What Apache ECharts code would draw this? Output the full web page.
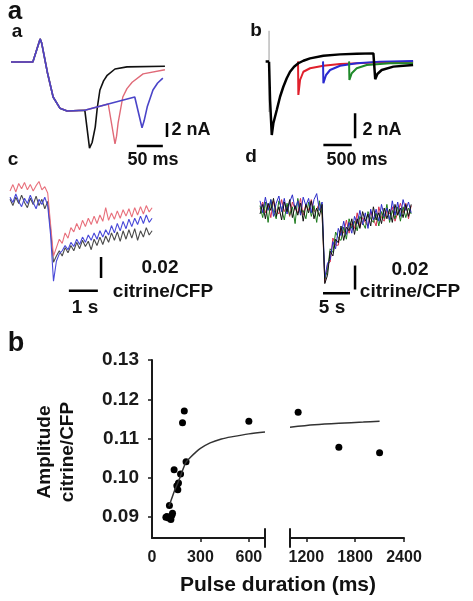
<!DOCTYPE html>
<html><head><meta charset="utf-8">
<script src="https://cdn.jsdelivr.net/npm/echarts@6/dist/echarts.min.js"></script>
<style>html,body{margin:0;padding:0;background:#fff}#c{width:473px;height:601px}</style>
</head><body><div id="c"></div>
<script>
// ---------- Panel a / a : currents (time ms, current nA)
const aaBlack = [[0,0],[42,0],[56,3.3],[59,2.7],[70,-1.5],[81,-5.0],[94,-6.6],[108,-7.0],[142,-6.9],[151,-12.3],[156,-11.5],[162,-9.3],[166,-6.5],[171,-4.0],[178,-2.7],[185,-1.9],[200,-1.0],[223,-0.7],[296,-0.6]];
const aaRed   = [[0,0],[42,0],[56,3.3],[59,2.7],[70,-1.5],[81,-5.0],[94,-6.6],[108,-7.0],[142,-6.9],[187,-6.0],[200,-11.7],[203,-10.6],[206,-8.7],[215,-5.0],[223,-3.8],[233,-2.9],[254,-1.7],[296,-1.1]];
const aaBlue  = [[0,0],[42,0],[56,3.3],[59,2.7],[70,-1.5],[81,-5.0],[94,-6.6],[108,-7.0],[142,-6.9],[187,-6.0],[238,-5.0],[252,-9.4],[256,-8.4],[262,-6.4],[273,-4.0],[282,-3.0],[292,-2.3]];
const aaBarV = [[300,-8.7],[300,-10.7]];   // 2 nA
const aaBarH = [[242,-12],[292,-12]];      // 50 ms

// ---------- Panel a / b : currents (time ms, current nA)
const abBlack = [[0,0.02],[5,0],[18,-3.04],[48,-5.84],[76,-4.9],[136,-3.84],[194,-2.78],[252,-1.98],[312,-1.3],[370,-0.78],[441,-0.38],[517,-0.1],[605,0.1],[723,0.29],[958,0.5],[1252,0.61],[1546,0.66],[1840,0.69],[1870,0.69],[1872,-1.38],[1910,-0.96],[1987,-0.64],[2192,-0.37],[2540,-0.24]];
const abRed   = [[511,0.05],[517,-2.64],[547,-1.44],[605,-0.78],[723,-0.5],[958,-0.3],[1252,-0.16],[1834,-0.05],[2540,0.02]];
const abBlue  = [[952,0.05],[958,-1.7],[1005,-1.04],[1076,-0.64],[1252,-0.3],[1546,-0.1],[1958,0.03],[2540,0.08]];
const abGreen = [[1411,0.05],[1417,-1.44],[1458,-0.9],[1546,-0.5],[1723,-0.24],[2134,-0.1],[2540,-0.1]];
const abAxis  = [[0,2.5],[0,-4.0]];
const abZeroTick = [[-60,0.05],[0,0.05]];
const abBarV = [[1517,-4.1],[1517,-6.1]];    // 2 nA
const abBarH = [[958,-6.64],[1458,-6.64]];   // 500 ms

// ---------- Panel c : citrine/CFP change (time s, ratio x 1e-3)
const cTime = [0,0.1,0.2,0.3,0.4,0.5,0.6,0.7,0.8,0.9,1.0,1.1,1.2,1.3,1.4,1.5,1.6,1.7,1.8,1.9,2.0,2.1,2.2,2.3,2.4,2.5,2.6,2.7,2.8,2.9,3.0,3.1,3.2,3.3,3.4,3.5,3.6,3.7,3.8,3.9,4.0,4.1,4.2,4.3,4.4,4.5,4.6,4.7,4.8,4.9];
const cRed   = [2,8,1,9,4,10,3,8,2,7,11,3,6,0,-30,-60,-52,-44,-48,-38,-43,-33,-37,-29,-35,-26,-32,-24,-30,-22,-29,-21,-27,-14,-26,-19,-25,-17,-24,-16,-22,-15,-23,-14,-21,-13,-20,-12,-18,-14];
const cBlack = [-6,-12,-4,-10,-2,-9,-14,-5,-11,-3,-12,-6,-15,-8,-35,-66,-60,-55,-60,-52,-57,-50,-55,-47,-53,-45,-51,-46,-54,-44,-50,-42,-49,-41,-47,-38,-45,-37,-46,-36,-44,-35,-43,-34,-45,-36,-42,-33,-40,-36];
const cBlue  = [-4,-9,-1,-8,-13,-5,-10,-2,-9,-15,-6,-11,-4,-12,-40,-84,-65,-58,-55,-50,-54,-47,-51,-44,-49,-42,-47,-40,-45,-38,-44,-36,-42,-35,-40,-31,-38,-29,-36,-27,-34,-25,-32,-24,-30,-22,-29,-21,-28,-24];
const cBarV = [[3.14,-61],[3.14,-81]];     // 0.02
const cBarH = [[2.03,-93],[3.03,-93]];     // 1 s

// ---------- Panel d : citrine/CFP change (time s, ratio x 1e-3)
const dTime = [0,0.5,1,1.5,2,2.5,3,3.5,4,4.5,5,5.5,6,6.5,7,7.5,8,8.5,9,9.5,10,10.5,11,11.5,12,12.5,13,13.5,14,14.5,15,15.5,16,16.5,17,17.5,18,18.5,19,19.5,20,20.5,21,21.5,22,22.5,23,23.5,24,24.5,25,25.5,26,26.5,27,27.5,28];
const dRed   = [-1,5,-4,3,-8,6,-2,-5,7,-3,2,-7,5,-1,-4,8,-6,3,-2,7,-3,-1,4,-6,-62,-47,-45,-25,-31,-31,-17,-21,-10,-21,-13,-17,-4,-16,-8,-12,-15,-3,-9,-15,1,-8,-11,-2,-5,1,-11,-4,4,-4,4,-9,2];
const dGreen = [2,-8,5,-12,7,-3,-9,6,-1,-10,4,-6,1,-13,8,-4,-2,-9,5,-7,2,-12,6,-5,-59,-52,-34,-37,-20,-25,-27,-16,-26,-9,-17,-11,-19,-7,-12,-17,-3,-9,-12,-4,-15,-3,-9,3,-12,-2,-9,1,-11,1,-8,0,-5];
const dBlue  = [6,-4,9,-2,7,-7,4,10,-3,8,-5,5,11,-1,6,-6,9,2,8,-4,7,12,-2,5,-58,-46,-43,-28,-34,-17,-23,-11,-22,-12,-21,-7,-13,-2,-14,-4,-17,-1,-10,-1,-11,3,-7,0,-10,6,-6,5,-7,7,-2,5,-4];
const dBlack = [-5,3,-9,4,-2,8,-7,1,-10,5,-3,7,-8,2,-6,4,-11,3,-4,6,-9,0,-7,3,-63,-56,-36,-40,-26,-29,-15,-27,-16,-19,-9,-22,-9,-17,-3,-11,-5,-15,1,-10,-4,-13,0,-9,-1,-12,3,-6,0,-8,3,-7,3];
const dBarV = [[17.6,-48],[17.6,-68]];     // 0.02
const dBarH = [[11.67,-71],[16.67,-71]];   // 5 s

// ---------- Panel b : amplitude vs pulse duration
const pulseMs   = [86,92,102,108,117,123,127,137,154,160,164,177,189,200,211,600,1100,1600,2100];
const amplitude = [0.0900,0.0902,0.0898,0.0930,0.0894,0.0905,0.0910,0.1021,0.0980,0.0970,0.0987,0.1010,0.1140,0.1170,0.1041,0.1144,0.1167,0.1078,0.1064];
const fitLeftMs  = [105,120,140,165,190,211,240,270,300,360,430,500,600,700];
const fitLeftAmp = [0.0928,0.0945,0.0968,0.0992,0.1020,0.1040,0.1053,0.1065,0.1075,0.1089,0.1099,0.1105,0.1112,0.1117];
const fitRightMs  = [1000,1300,1600,1900,2100];
const fitRightAmp = [0.1129,0.1135,0.1139,0.1142,0.1144];
const ampTicks = [0.09,0.10,0.11,0.12,0.13];
const leftTicks = [0,300,600];
const rightTicks = [1200,1800,2400];
const yMin = 0.0847, yMax = 0.13;
const breakLeft  = [[700,0.0822],[700,0.0872]];
const breakRight = [[1000,0.0822],[1000,0.0872]];

const FONT = '"Liberation Sans", Arial, sans-serif';
const zip = (xs, ys) => xs.map((x, i) => [x, ys[i]]);

function line(data, grid, color, width, extra) {
  return Object.assign({type:'line', xAxisIndex:grid, yAxisIndex:grid, data, symbol:'none',
    silent:true, animation:false, lineStyle:{color, width}}, extra || {});
}
function hidden(grid, min, max) {
  return {gridIndex:grid, type:'value', min, max, show:false};
}
function txt(text, x, y, size, extra) {
  return Object.assign({type:'text', x, y, silent:true,
    style:Object.assign({text, fill:'#111', font:'bold ' + size + 'px ' + FONT, align:'center', verticalAlign:'middle'}, (extra||{}).style||{})},
    extra && extra.rotation !== undefined ? {rotation: extra.rotation} : {});
}

const chart = echarts.init(document.getElementById('c'), null, {renderer:'canvas'});
const axisColor = '#1a1a1a';
const bXAxis = (grid, min, max, labels, ticks) => ({
  gridIndex:grid, type:'value', min, max,
  axisLine:{show:true, onZero:false, lineStyle:{color:axisColor, width:2}},
  axisTick:{show:true, customValues:ticks, length:4, lineStyle:{color:axisColor, width:1.5}},
  axisLabel:{customValues:labels, formatter:v => String(v), color:'#1a1a1a', fontSize:16, fontWeight:'bold', fontFamily:FONT, margin:12},
  splitLine:{show:false}
});

chart.setOption({
  animation:false,
  backgroundColor:'#fff',
  grid:[
    {left:11, top:27, width:156, height:133},
    {left:257.7, top:24.5, width:158.8, height:125},
    {left:10, top:172, width:145, height:126},
    {left:260, top:178, width:162, height:120},
    {left:152, top:360, width:113, height:178},
    {left:290, top:360, width:114, height:178}
  ],
  xAxis:[
    hidden(0, 0, 300), hidden(1, -200, 2600), hidden(2, 0, 5), hidden(3, 0, 30),
    bXAxis(4, 0, 700, leftTicks, [300,600]),
    bXAxis(5, 1000, 2400, rightTicks, rightTicks)
  ],
  yAxis:[
    hidden(0, -14, 5), hidden(1, -7, 3), hidden(2, -100, 20), hidden(3, -75, 25),
    {gridIndex:4, type:'value', min:yMin, max:yMax,
      axisLine:{show:true, lineStyle:{color:axisColor, width:2}},
      axisTick:{show:true, customValues:ampTicks, length:4, lineStyle:{color:axisColor, width:1.5}},
      axisLabel:{customValues:ampTicks, formatter:v => v.toFixed(2), color:'#1a1a1a', fontSize:19, fontWeight:'bold', fontFamily:FONT, margin:13},
      splitLine:{show:false}},
    hidden(5, yMin, yMax)
  ],
  series:[
    // a / a
    line(aaBlack, 0, '#111', 1.6),
    line(aaRed, 0, '#e06a78', 1.4),
    line(aaBlue, 0, '#4a44c8', 1.6),
    line(aaBarV, 0, '#000', 2.5),
    line(aaBarH, 0, '#000', 2.5),
    // a / b
    line(abAxis, 1, '#9a9a9a', 1),
    line(abZeroTick, 1, '#000', 2.5),
    line(abRed, 1, '#e0202c', 2),
    line(abBlue, 1, '#2a2ad0', 2),
    line(abGreen, 1, '#1f8a2a', 2),
    line(abBlack, 1, '#000', 2.5),
    line(abBarV, 1, '#000', 2.5),
    line(abBarH, 1, '#000', 2.5),
    // c
    line(zip(cTime, cBlack), 2, '#4a4a4a', 1.1),
    line(zip(cTime, cRed), 2, '#e8707c', 1.1),
    line(zip(cTime, cBlue), 2, '#4848d8', 1.1),
    line(cBarV, 2, '#000', 2.5),
    line(cBarH, 2, '#000', 2.5),
    // d
    line(zip(dTime, dRed), 3, '#d83050', 1),
    line(zip(dTime, dGreen), 3, '#1c7a1c', 1),
    line(zip(dTime, dBlue), 3, '#2a2ac8', 1),
    line(zip(dTime, dBlack), 3, '#111', 1),
    line(dBarV, 3, '#000', 2.5),
    line(dBarH, 3, '#000', 2.5),
    // b
    line(zip(fitLeftMs, fitLeftAmp), 4, '#333', 1.5, {smooth:0.3}),
    line(zip(fitRightMs, fitRightAmp), 5, '#333', 1.5, {smooth:0.3}),
    line(breakLeft, 4, axisColor, 2, {clip:false}),
    line(breakRight, 5, axisColor, 2, {clip:false}),
    {type:'scatter', xAxisIndex:4, yAxisIndex:4, silent:true, symbolSize:7, itemStyle:{color:'#000', opacity:1},
      data: zip(pulseMs, amplitude).filter(p => p[0] <= 700)},
    {type:'scatter', xAxisIndex:5, yAxisIndex:5, silent:true, symbolSize:7, itemStyle:{color:'#000', opacity:1},
      data: zip(pulseMs, amplitude).filter(p => p[0] >= 1000)}
  ],
  graphic:[
    txt('a', 15, 12, 26),
    txt('a', 17, 32, 19),
    txt('b', 256, 31, 19),
    txt('c', 13, 160, 19),
    txt('d', 251, 157, 19),
    txt('b', 16, 344, 27),
    txt('2 nA', 191, 130, 18),
    txt('50 ms', 153, 160, 18),
    txt('2 nA', 382, 130, 18),
    txt('500 ms', 357, 160, 18),
    txt('0.02', 160, 268, 19),
    txt('citrine/CFP', 163, 292, 19),
    txt('1 s', 85, 308, 19),
    txt('0.02', 410, 270, 19),
    txt('citrine/CFP', 410, 292, 19),
    txt('5 s', 332, 308, 19),
    txt('Amplitude\ncitrine/CFP', 56, 452, 19, {rotation:Math.PI/2, style:{lineHeight:23}}),
    txt('Pulse duration (ms)', 278, 585, 21)
  ]
});
</script></body></html>
